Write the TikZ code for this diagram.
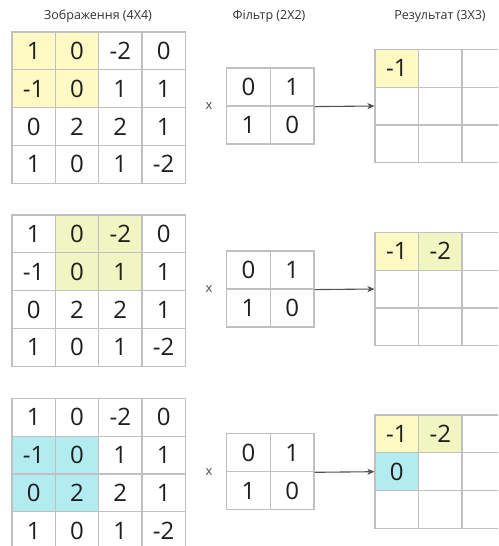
\documentclass[tikz,border=0pt]{standalone}
\usepackage{fontspec}
\setmainfont{Open Sans}
\usetikzlibrary{arrows.meta}
\definecolor{yel}{RGB}{255,249,196}
\definecolor{grn}{RGB}{240,245,193}
\definecolor{cyn}{RGB}{178,235,240}
\definecolor{gridc}{RGB}{192,192,192}
\definecolor{txt}{RGB}{30,30,30}
\definecolor{arrc}{RGB}{80,80,80}
\begin{document}
\begin{tikzpicture}[x=1pt,y=-1pt,
  cell/.style={draw=gridc, line width=1.2pt, minimum width=43.4pt, minimum height=37.8pt,
    inner sep=0pt, font=\fontsize{24}{24}\selectfont, text=txt},
  num/.style={font=\fontsize{24}{24}\selectfont, text=txt},
  title/.style={font=\fontsize{12.5}{14}\selectfont, text=black!80},
  times/.style={font=\fontsize{13}{14}\selectfont, text=black!70},
  arr/.style={draw=arrc, line width=1.1pt, -{Stealth[length=7pt,width=6pt,inset=2pt]}},
  hl1-1-1/.style={fill=yel}, hl1-1-2/.style={fill=yel}, hl1-2-1/.style={fill=yel}, hl1-2-2/.style={fill=yel},
  hl2-1-2/.style={fill=grn}, hl2-1-3/.style={fill=grn}, hl2-2-2/.style={fill=grn}, hl2-2-3/.style={fill=grn},
  hl3-2-1/.style={fill=cyn}, hl3-2-2/.style={fill=cyn}, hl3-3-1/.style={fill=cyn}, hl3-3-2/.style={fill=cyn},
  rs1-1-1/.style={fill=yel},
  rs2-1-1/.style={fill=yel}, rs2-1-2/.style={fill=grn},
  rs3-1-1/.style={fill=yel}, rs3-1-2/.style={fill=grn}, rs3-2-1/.style={fill=cyn}
]
\useasboundingbox (0,0) rectangle (498,546);
\clip (0,0) rectangle (498,546);

\node[title] (t1) at (98,16) {Зображення (4X4)};
\node[title] (t2) at (269,16) {Фільтр (2X2)};
\node[title] (t3) at (440,16) {Результат (3X3)};

\foreach \b/\mt/\ft/\rt in {1/32/68/49.3, 2/215/251/232.3, 3/398.3/433.7/415}{
  % input matrix
  \foreach \v [count=\i from 0] in {1,0,-2,0,-1,0,1,1,0,2,2,1,1,0,1,-2}{
    \pgfmathtruncatemacro{\r}{int(\i/4)+1}
    \pgfmathtruncatemacro{\c}{mod(\i,4)+1}
    \node[cell, hl\b-\r-\c/.try] (m\b-\r\c) at ({12+43.33*(\c-0.5)},{\mt+37.8*(\r-0.5)}) {\v};
  }
  % filter
  \foreach \v [count=\i from 0] in {0,1,1,0}{
    \pgfmathtruncatemacro{\r}{int(\i/2)+1}
    \pgfmathtruncatemacro{\c}{mod(\i,2)+1}
    \node[cell, minimum width=43.7pt, minimum height=38pt] (f\b-\r\c) at ({226.7+43.67*(\c-0.5)},{\ft+38*(\r-0.5)}) {\v};
  }
  \node[times] (x\b) at (209,{\ft+38}) {x};
  % result
  \foreach \i in {0,...,8}{
    \pgfmathtruncatemacro{\r}{int(\i/3)+1}
    \pgfmathtruncatemacro{\c}{mod(\i,3)+1}
    \node[cell, rs\b-\r-\c/.try] (r\b-\r\c) at ({375+43.5*(\c-0.5)},{\rt+37.8*(\r-0.5)}) {};
  }
  \draw[arr] (f\b-12.south east) -- (r\b-21.west);
}
\node[num] (v1a) at (r1-11) {-1};
\node[num] (v2a) at (r2-11) {-1};
\node[num] (v2b) at (r2-12) {-2};
\node[num] (v3a) at (r3-11) {-1};
\node[num] (v3b) at (r3-12) {-2};
\node[num] (v3c) at (r3-21) {0};
\end{tikzpicture}
\end{document}
